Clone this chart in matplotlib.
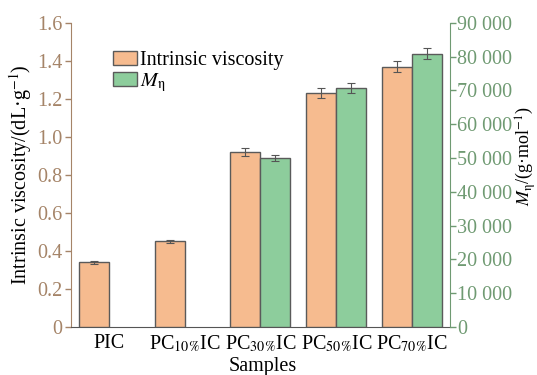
import numpy as np
import matplotlib
matplotlib.use('Agg')
import matplotlib.pyplot as plt
from matplotlib.ticker import FuncFormatter, MultipleLocator

plt.rcParams['font.family'] = ['Liberation Serif', 'DejaVu Serif']
plt.rcParams['mathtext.fontset'] = 'stix'

# ── data ──────────────────────────────────────────────────────────────────────
samples   = ['PIC', 'PC$_{10\\%}$IC', 'PC$_{30\\%}$IC', 'PC$_{50\\%}$IC', 'PC$_{70\\%}$IC']
visc      = [0.34, 0.45, 0.92, 1.23, 1.37]
visc_err  = [0.007, 0.008, 0.02, 0.026, 0.027]
mw        = [np.nan, np.nan, 50000, 70800, 80900]
mw_err    = [np.nan, np.nan, 1000, 1450, 1600]

c_orange = '#F6BB8F'
c_green  = '#8DCD9C'
c_left   = '#A58468'
c_right  = '#6F9A72'
c_edge   = '#5a5a5a'
fs = 14.5

x = np.arange(len(samples))
w = 0.395

fig = plt.figure(figsize=(5.37, 3.75), dpi=100)
ax1 = fig.add_axes([0.132, 0.128, 0.706, 0.811])
ax2 = ax1.twinx()

ax1.bar(x - w / 2, visc, w, color=c_orange, edgecolor=c_edge, linewidth=1.0,
        yerr=visc_err, capsize=3, error_kw=dict(ecolor='#555555', elinewidth=0.8, capthick=0.8),
        label='Intrinsic viscosity', zorder=3)
ax2.bar(x + w / 2, mw, w, color=c_green, edgecolor=c_edge, linewidth=1.0,
        yerr=mw_err, capsize=3, error_kw=dict(ecolor='#555555', elinewidth=0.8, capthick=0.8),
        label='$M_{\\mathrm{\\eta}}$', zorder=3)

ax1.set_xlim(-0.5, 4.5)
ax1.set_ylim(0, 1.6)
ax2.set_ylim(0, 90000)
ax1.yaxis.set_major_locator(MultipleLocator(0.2))
ax2.yaxis.set_major_locator(MultipleLocator(10000))
ax1.yaxis.set_major_formatter(FuncFormatter(lambda v, p: '0' if v == 0 else f'{v:.1f}'))
ax2.yaxis.set_major_formatter(FuncFormatter(
    lambda v, p: '0' if v == 0 else f'{int(v) // 1000} {int(v) % 1000:03d}'))

ax1.set_xticks(x)
ax1.set_xticklabels(samples, fontsize=fs)
ax1.tick_params(axis='x', length=0, pad=5)
ax1.tick_params(axis='y', colors=c_left, labelsize=fs, length=4, width=1, pad=2)
ax2.tick_params(axis='y', colors=c_right, labelsize=fs, length=4, width=1, pad=1)

for a in (ax1, ax2):
    a.spines['top'].set_visible(False)
ax1.spines['left'].set_color(c_left)
ax1.spines['right'].set_visible(False)
ax2.spines['left'].set_visible(False)
ax2.spines['right'].set_color(c_right)
ax1.spines['bottom'].set_color('#555555')
ax2.spines['bottom'].set_visible(False)

ax1.set_ylabel('Intrinsic viscosity/(dL·g$^{-1}$)', fontsize=fs, labelpad=2)
fig.text(0.978, 0.585, '$M_{\\mathrm{\\eta}}$/(g·mol$^{-1}$)', fontsize=13,
         rotation=90, ha='center', va='center')
fig.text(0.49, 0.022, 'Samples', fontsize=fs, ha='center', va='center')

h1, l1 = ax1.get_legend_handles_labels()
h2, l2 = ax2.get_legend_handles_labels()
ax1.legend(h1 + h2, l1 + l2, loc='upper left', bbox_to_anchor=(0.09, 0.935),
           frameon=False, fontsize=fs, handlelength=1.2, handleheight=0.7,
           handletextpad=0.15, labelspacing=0.05, borderaxespad=0)

fig.savefig('out.png', dpi=100)
